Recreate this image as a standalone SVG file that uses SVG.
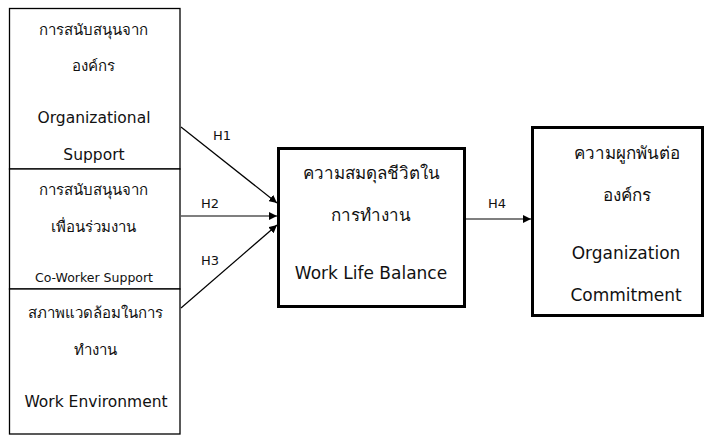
<svg xmlns="http://www.w3.org/2000/svg" width="710" height="435" viewBox="0 0 710 435">
<defs>
<style>
.box{fill:#fff;stroke:#000;stroke-width:1.3}
.tbox{fill:#fff;stroke:#000;stroke-width:3}
text{font-family:"DejaVu Sans","Noto Sans",sans-serif;fill:#111;text-anchor:middle;dominant-baseline:central;font-size:15px}
.en{font-size:15.5px}
.big{font-size:17px}
.sm{font-size:12.5px}
.lbl{font-size:13px}
.conn{stroke:#000;stroke-width:1.2;fill:none;marker-end:url(#ah)}
</style>
<marker id="ah" viewBox="0 0 10 10" refX="10" refY="5" markerWidth="8" markerHeight="8" markerUnits="userSpaceOnUse" orient="auto">
<path d="M0,0 L10,5 L0,10 z" fill="#000"/>
</marker>
</defs>
<rect width="710" height="435" fill="#fff"/>
<g id="n1">
<rect class="box" x="9.5" y="8.5" width="170.5" height="160.5"/>
<text x="93" y="30">การสนับสนุนจาก</text>
<text x="93" y="66">องค์กร</text>
<text class="en" x="94" y="118">Organizational</text>
<text class="en" x="94" y="155">Support</text>
</g>
<g id="n2">
<rect class="box" x="9.5" y="169" width="170.5" height="120"/>
<text x="93" y="190">การสนับสนุนจาก</text>
<text x="93" y="227">เพื่อนร่วมงาน</text>
<text class="sm" x="94" y="277">Co-Worker Support</text>
</g>
<g id="n3">
<rect class="box" x="9.5" y="289" width="170.5" height="145"/>
<text x="95" y="313">สภาพแวดล้อมในการ</text>
<text x="95" y="350">ทำงาน</text>
<text class="en" x="96" y="402">Work Environment</text>
</g>
<g id="n4">
<rect class="tbox" x="278.5" y="148.5" width="186" height="158"/>
<text class="big" x="371" y="173">ความสมดุลชีวิตใน</text>
<text class="big" x="371" y="215">การทำงาน</text>
<text class="big" x="371" y="273">Work Life Balance</text>
</g>
<g id="n5">
<rect class="tbox" x="532.5" y="127.5" width="170" height="188"/>
<text class="big" x="627" y="153">ความผูกพันต่อ</text>
<text class="big" x="627" y="195">องค์กร</text>
<text class="big" x="626" y="253">Organization</text>
<text class="big" x="626" y="295">Commitment</text>
</g>
<g id="connectors">
<line class="conn" x1="181" y1="127" x2="277" y2="203"/>
<line class="conn" x1="181" y1="216" x2="277" y2="216"/>
<line class="conn" x1="181" y1="308" x2="277" y2="225"/>
<line class="conn" x1="466" y1="219" x2="531" y2="219"/>
<text class="lbl" x="222" y="135">H1</text>
<text class="lbl" x="210" y="203">H2</text>
<text class="lbl" x="210" y="260">H3</text>
<text class="lbl" x="497" y="203">H4</text>
</g>
</svg>
